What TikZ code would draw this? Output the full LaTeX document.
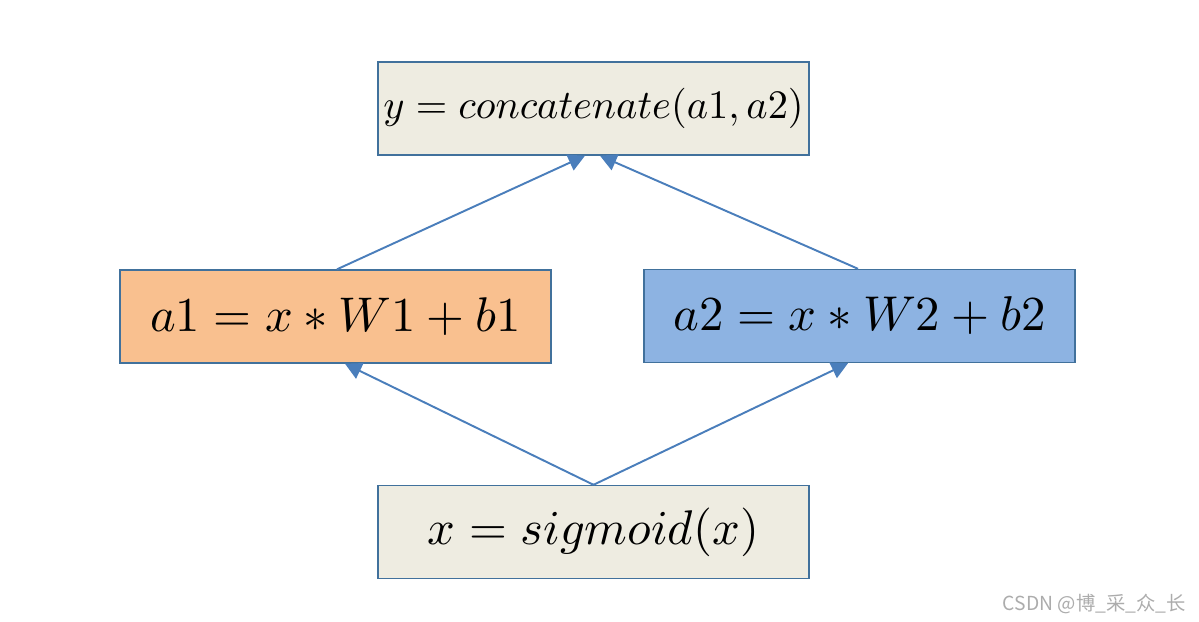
\documentclass[tikz,border=0pt]{standalone}
\usepackage{fontspec}
\usepackage{graphicx}
\usepackage{xcolor}
\usepackage{tikz}
\usetikzlibrary{arrows.meta, positioning, calc}
\newfontfamily\wmfont{Noto Sans CJK SC}

\definecolor{boxline}{HTML}{41719C}
\definecolor{arrowblue}{HTML}{4A7EBB}
\definecolor{beige}{HTML}{EEECE1}
\definecolor{peach}{HTML}{F9C08F}
\definecolor{skyblue}{HTML}{8DB3E2}

\begin{document}
\begin{tikzpicture}[
    box/.style={draw=boxline, line width=0.8pt, minimum width=8.62cm, minimum height=1.86cm, inner sep=0pt, align=center},
    plain/.style={box, fill=beige},
    left box/.style={box, fill=peach},
    right box/.style={box, fill=skyblue},
    arrow/.style={-{Triangle[length=0.33cm, width=0.34cm]}, draw=arrowblue, fill=arrowblue, line width=1.1pt},
]
\useasboundingbox (0,0) rectangle (23.98,-12.44);

% Output
\node[plain] (concat) at (11.87,-2.17) {\scalebox{2.3}{$y=concatenate(a1,a2)$}};

% Two branches
\node[left box] (branchA) at (6.71,-6.33) {\scalebox{2.77}{$a1=x*W1+b1$}};
\node[right box] (branchB) at (17.19,-6.32) {\scalebox{2.78}{$a2=x*W2+b2$}};

% Input
\node[plain] (input) at (11.87,-10.64) {\scalebox{2.77}{$x=sigmoid(x)$}};

% --- Arrows ---
\draw[arrow] (input.north) -- ([xshift=0.19cm]branchA.south);
\draw[arrow] (input.north) -- ([xshift=-0.23cm]branchB.south);
\draw[arrow] ([xshift=0.03cm]branchA.north) -- ([xshift=-0.17cm]concat.south);
\draw[arrow] ([xshift=-0.03cm]branchB.north) -- ([xshift=0.13cm]concat.south);

% Watermark
\node[anchor=east, text=gray!65, font=\wmfont\fontsize{11}{13}\selectfont] (mark) at (23.84,-12.08) {CSDN @博\_采\_众\_长};

\end{tikzpicture}
\end{document}
